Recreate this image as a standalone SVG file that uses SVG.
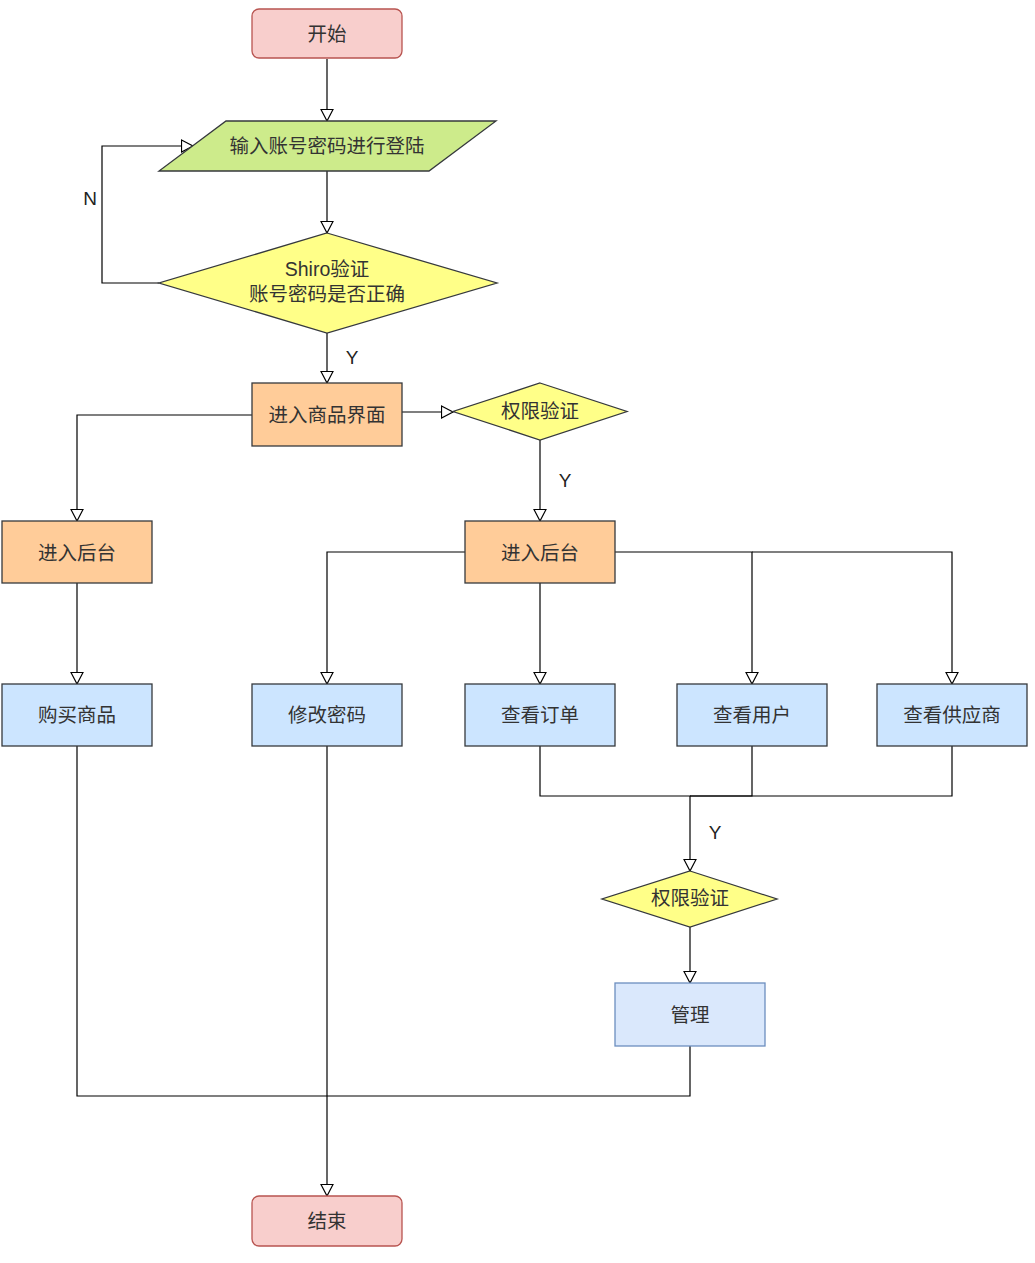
<svg xmlns="http://www.w3.org/2000/svg" width="1035" height="1263" viewBox="0 0 1035 1263">
  <style>
    .t { font-family: "Liberation Sans", "Noto Sans CJK SC", sans-serif; font-size: 19.5px; fill: #333333; text-anchor: middle; dominant-baseline: central; }
    .lbl { font-family: "Liberation Sans", "Noto Sans CJK SC", sans-serif; font-size: 19px; fill: #222222; text-anchor: middle; dominant-baseline: central; }
    .term { fill: #f8cecc; stroke: #b85450; stroke-width: 1.3; }
    .io { fill: #cdeb8b; stroke: #36393d; stroke-width: 1.3; }
    .dec { fill: #ffff88; stroke: #36393d; stroke-width: 1.3; }
    .orange { fill: #ffcc99; stroke: #36393d; stroke-width: 1.3; }
    .blue { fill: #cce5ff; stroke: #36393d; stroke-width: 1.3; }
    .blue2 { fill: #dae8fc; stroke: #6c8ebf; stroke-width: 1.3; }
    .edge { fill: none; stroke: #000000; stroke-width: 1.2; }
  </style>
  <defs>
    <marker id="arr" markerUnits="userSpaceOnUse" markerWidth="14" markerHeight="14" viewBox="0 0 14 14" refX="12.5" refY="7" orient="auto">
      <path d="M1,1 L12.5,7 L1,13 Z" fill="#ffffff" stroke="#000000" stroke-width="1.2"/>
    </marker>
  </defs>
  <rect width="1035" height="1263" fill="#ffffff"/>

  <g id="connectors">
    <path class="edge" d="M327,59 V121" marker-end="url(#arr)"/>
    <path class="edge" d="M327,171 V233" marker-end="url(#arr)"/>
    <path class="edge" d="M159,283 H102 V146 H193" marker-end="url(#arr)"/>
    <path class="edge" d="M327,333 V383" marker-end="url(#arr)"/>
    <path class="edge" d="M402,412 H453" marker-end="url(#arr)"/>
    <path class="edge" d="M252,415 H77 V521" marker-end="url(#arr)"/>
    <path class="edge" d="M540,440 V521" marker-end="url(#arr)"/>
    <path class="edge" d="M77,583 V684" marker-end="url(#arr)"/>
    <path class="edge" d="M465,552 H327 V684" marker-end="url(#arr)"/>
    <path class="edge" d="M540,583 V684" marker-end="url(#arr)"/>
    <path class="edge" d="M615,552 H752 V684" marker-end="url(#arr)"/>
    <path class="edge" d="M752,552 H952 V684" marker-end="url(#arr)"/>
    <path class="edge" d="M540,746 V796 H690 V871" marker-end="url(#arr)"/>
    <path class="edge" d="M752,746 V796 H690"/>
    <path class="edge" d="M952,746 V796 H690"/>
    <path class="edge" d="M690,927 V983" marker-end="url(#arr)"/>
    <path class="edge" d="M327,746 V1196" marker-end="url(#arr)"/>
    <path class="edge" d="M77,746 V1096 H327"/>
    <path class="edge" d="M690,1046 V1096 H327"/>
    <text class="lbl" x="90" y="198">N</text>
    <text class="lbl" x="352" y="357">Y</text>
    <text class="lbl" x="565" y="480">Y</text>
    <text class="lbl" x="715" y="832">Y</text>
  </g>

  <g id="start">
    <rect class="term" x="252" y="9" width="150" height="49" rx="7"/>
    <text class="t" x="327" y="34">开始</text>
  </g>
  <g id="login">
    <polygon class="io" points="226,121 496,121 429,171 159,171"/>
    <text class="t" x="327" y="146">输入账号密码进行登陆</text>
  </g>
  <g id="shiro">
    <polygon class="dec" points="327,233 497,283 327,333 159,283"/>
    <text class="t" x="327" y="269">Shiro验证</text>
    <text class="t" x="327" y="294">账号密码是否正确</text>
  </g>
  <g id="goods">
    <rect class="orange" x="252" y="383" width="150" height="63"/>
    <text class="t" x="327" y="415">进入商品界面</text>
  </g>
  <g id="auth1">
    <polygon class="dec" points="540,383 627,411.5 540,440 453,411.5"/>
    <text class="t" x="540" y="411">权限验证</text>
  </g>
  <g id="backend-left">
    <rect class="orange" x="2" y="521" width="150" height="62"/>
    <text class="t" x="77" y="553">进入后台</text>
  </g>
  <g id="backend-right">
    <rect class="orange" x="465" y="521" width="150" height="62"/>
    <text class="t" x="540" y="553">进入后台</text>
  </g>
  <g id="buy">
    <rect class="blue" x="2" y="684" width="150" height="62"/>
    <text class="t" x="77" y="715">购买商品</text>
  </g>
  <g id="change-pwd">
    <rect class="blue" x="252" y="684" width="150" height="62"/>
    <text class="t" x="327" y="715">修改密码</text>
  </g>
  <g id="orders">
    <rect class="blue" x="465" y="684" width="150" height="62"/>
    <text class="t" x="540" y="715">查看订单</text>
  </g>
  <g id="users">
    <rect class="blue" x="677" y="684" width="150" height="62"/>
    <text class="t" x="752" y="715">查看用户</text>
  </g>
  <g id="suppliers">
    <rect class="blue" x="877" y="684" width="150" height="62"/>
    <text class="t" x="952" y="715">查看供应商</text>
  </g>
  <g id="auth2">
    <polygon class="dec" points="690,871 777,899 690,927 602,899"/>
    <text class="t" x="690" y="898">权限验证</text>
  </g>
  <g id="manage">
    <rect class="blue2" x="615" y="983" width="150" height="63"/>
    <text class="t" x="690" y="1015">管理</text>
  </g>
  <g id="end">
    <rect class="term" x="252" y="1196" width="150" height="50" rx="7"/>
    <text class="t" x="327" y="1221">结束</text>
  </g>
</svg>
